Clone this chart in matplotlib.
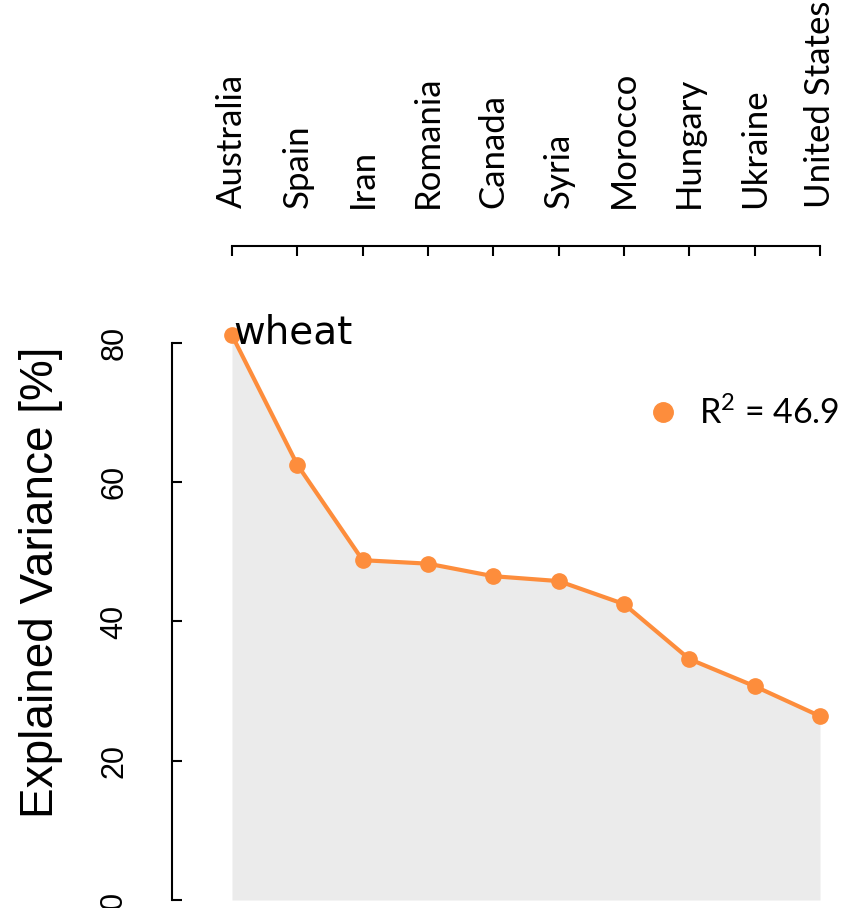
import matplotlib
matplotlib.use("Agg")
import matplotlib.pyplot as plt
from matplotlib.lines import Line2D

countries = ["Australia", "Spain", "Iran", "Romania", "Canada", "Syria",
             "Morocco", "Hungary", "Ukraine", "United States"]
explained = [81.1, 62.5, 48.8, 48.3, 46.5, 45.8, 42.5, 34.6, 30.7, 26.4]
crop_label = "wheat"
r2_label = r"R$^{\mathregular{2}}$ = 46.9"
yticks = [0, 20, 40, 60, 80]

plt.rcParams["mathtext.fontset"] = "custom"
plt.rcParams["mathtext.rm"] = "Lato"
orange = "#fd8d3c"
fig = plt.figure(figsize=(8.44, 9.08), dpi=100)
ax = fig.add_axes([232/844, 8/908, 588/844, 571/908])

x = list(range(len(countries)))
ax.fill_between(x, explained, 0, color="#ebebeb", lw=0, zorder=1)
ax.plot(x, explained, color=orange, lw=3, marker="o", ms=11,
        mec=orange, mfc=orange, clip_on=False, zorder=3)
ax.text(0.02, 79.9, crop_label, fontsize=28, family="DejaVu Sans",
        ha="left", va="baseline", zorder=4)

ax.set_xlim(0, len(countries) - 1)
ax.set_ylim(0, 82)

# spines
for s in ["right", "bottom"]:
    ax.spines[s].set_visible(False)
ax.spines["left"].set_position(("outward", 43))
ax.spines["left"].set_bounds(0, 80)
ax.spines["top"].set_position(("outward", 60))
ax.spines["top"].set_bounds(0, len(countries) - 1)
for s in ["left", "top"]:
    ax.spines[s].set_linewidth(1.5)

ax.xaxis.set_ticks_position("top")
ax.xaxis.set_label_position("top")
ax.set_xticks(x)
ax.set_xticklabels(countries, rotation=90, fontsize=25, family="Lato")
ax.tick_params(axis="x", direction="in", length=7, width=1.5, pad=27)

ax.set_yticks(yticks)
ax.set_yticklabels([str(v) for v in yticks], rotation=90, fontsize=22,
                   va="center", family="Liberation Sans")
ax.tick_params(axis="y", direction="in", length=7, width=1.5, pad=31)
ax.set_ylabel("Explained Variance [%]", fontsize=33, family="Liberation Sans")
ax.yaxis.set_label_coords((63 - 232) / 588, (900 - 582) / 571)

handle = Line2D([], [], ls="none", marker="o", ms=14, color=orange)
ax.legend([handle], [r2_label], loc="center right", frameon=False,
          prop={"family": "Lato", "size": 24.5}, handlelength=1.0, handletextpad=0.55,
          borderpad=0, borderaxespad=0,
          bbox_to_anchor=(839/844, 1 - 413/908), bbox_transform=fig.transFigure)

fig.savefig("out.png", dpi=100)
